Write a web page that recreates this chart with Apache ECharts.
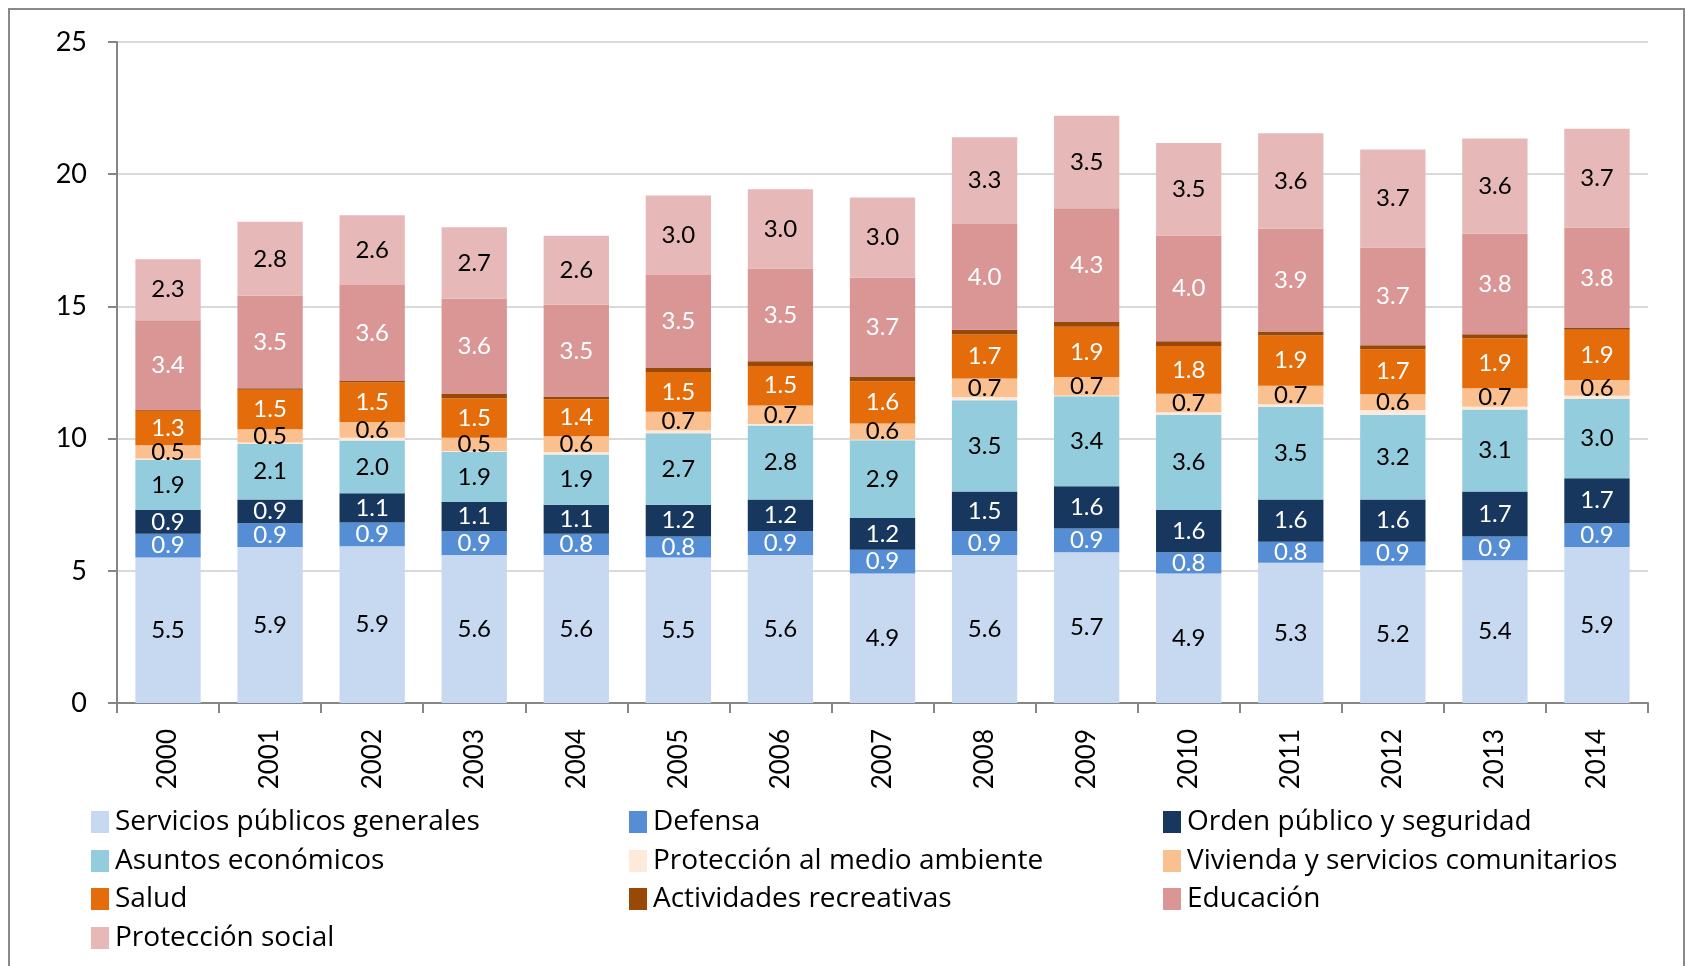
<!DOCTYPE html>
<html>
<head>
<meta charset="utf-8">
<script src="https://cdn.jsdelivr.net/npm/echarts@6/dist/echarts.min.js"></script>
<style>
html,body{margin:0;padding:0;background:#fff;}
#chart{width:1686px;height:966px;}
</style>
</head>
<body>
<div id="chart"></div>
<script>
const years = ['2000','2001','2002','2003','2004','2005','2006','2007','2008','2009','2010','2011','2012','2013','2014'];
const yTicks = [0, 5, 10, 15, 20, 25];

const servicios   = [5.5,5.9,5.93,5.6,5.6,5.5,5.6,4.9,5.6,5.7,4.9,5.3,5.2,5.4,5.9];
const defensa     = [0.9,0.9,0.9,0.9,0.8,0.8,0.9,0.9,0.9,0.9,0.8,0.8,0.9,0.9,0.9];
const orden       = [0.9,0.9,1.1,1.1,1.1,1.2,1.2,1.2,1.5,1.6,1.6,1.6,1.6,1.7,1.7];
const asuntos     = [1.9,2.1,2.0,1.9,1.9,2.7,2.8,2.94,3.45,3.4,3.6,3.5,3.2,3.1,3.0];
const medio       = [0.05,0.05,0.1,0.03,0.09,0.12,0.05,0.03,0.12,0.03,0.1,0.1,0.18,0.1,0.12];
const vivienda    = [0.5,0.5,0.6,0.5,0.6,0.7,0.7,0.6,0.7,0.7,0.7,0.7,0.6,0.7,0.6];
const salud       = [1.3,1.5,1.5,1.5,1.4,1.5,1.5,1.6,1.67,1.9,1.8,1.9,1.7,1.9,1.9];
const recreativas = [0.03,0.05,0.05,0.16,0.08,0.17,0.18,0.18,0.18,0.18,0.18,0.15,0.15,0.15,0.06];
const educacion   = [3.4,3.5,3.63,3.6,3.5,3.5,3.5,3.73,4.0,4.3,4.0,3.9,3.7,3.8,3.8];
const proteccion  = [2.3,2.8,2.64,2.7,2.6,3.0,3.0,3.04,3.28,3.5,3.5,3.6,3.7,3.6,3.74];

const seriesDefs = [
  {name:'Servicios públicos generales', data:servicios, color:'#C6D9F1', label:'#000'},
  {name:'Defensa', data:defensa, color:'#558ED5', label:'#fff'},
  {name:'Orden público y seguridad', data:orden, color:'#17375E', label:'#fff'},
  {name:'Asuntos económicos', data:asuntos, color:'#93CDDD', label:'#000'},
  {name:'Protección al medio ambiente', data:medio, color:'#FDEADA', label:null},
  {name:'Vivienda y servicios comunitarios', data:vivienda, color:'#FAC090', label:'#000'},
  {name:'Salud', data:salud, color:'#E46C0A', label:'#fff'},
  {name:'Actividades recreativas', data:recreativas, color:'#984807', label:null},
  {name:'Educación', data:educacion, color:'#D99694', label:'#fff'},
  {name:'Protección social', data:proteccion, color:'#E6B9B8', label:'#000'}
];

const FONT = 'Lato, "Open Sans", sans-serif';
const LEGEND_FONT = '"Open Sans", Lato, sans-serif';

const series = seriesDefs.map(s => ({
  name: s.name,
  type: 'bar',
  stack: 'total',
  data: s.data,
  barCategoryGap: '36%',
  itemStyle: {color: s.color},
  label: s.label ? {
    show: true,
    position: 'inside',
    color: s.label,
    fontFamily: FONT,
    fontSize: 24,
    formatter: p => p.value.toFixed(1)
  } : {show: false},
  emphasis: {disabled: true}
}));

const colX = [91, 629, 1163];
const rowY = [821, 860, 898, 937];
const legends = seriesDefs.map((s, i) => ({
  data: [s.name],
  left: colX[i % 3],
  top: rowY[Math.floor(i / 3)] - 13,
  itemWidth: 18,
  itemHeight: 22,
  icon: 'rect',
  padding: 0,
  selectedMode: false,
  textStyle: {fontFamily: LEGEND_FONT, fontSize: 28, color: '#000', padding: [0, 0, 0, 1]}
}));

const chart = echarts.init(document.getElementById('chart'));
chart.setOption({
  animation: false,
  backgroundColor: '#fff',
  graphic: [{
    type: 'rect',
    shape: {x: 9, y: 9, width: 1675, height: 980},
    style: {fill: 'none', stroke: '#898989', lineWidth: 2},
    silent: true
  }],
  grid: {left: 117, right: 38, top: 42, bottom: 263, containLabel: false},
  legend: legends,
  xAxis: {
    type: 'category',
    data: years,
    axisLine: {lineStyle: {color: '#868686', width: 2}},
    axisTick: {show: true, length: 10, lineStyle: {color: '#868686', width: 2}},
    axisLabel: {rotate: 90, margin: 26, color: '#000', fontFamily: FONT, fontSize: 26}
  },
  yAxis: {
    type: 'value',
    min: yTicks[0],
    max: yTicks[yTicks.length - 1],
    interval: 5,
    axisLine: {show: true, lineStyle: {color: '#868686', width: 2}},
    axisTick: {show: true, length: 9, lineStyle: {color: '#868686', width: 2}},
    splitLine: {lineStyle: {color: '#D9D9D9', width: 2}},
    axisLabel: {margin: 30, color: '#000', fontFamily: FONT, fontSize: 27}
  },
  series: series
});
</script>
</body>
</html>
